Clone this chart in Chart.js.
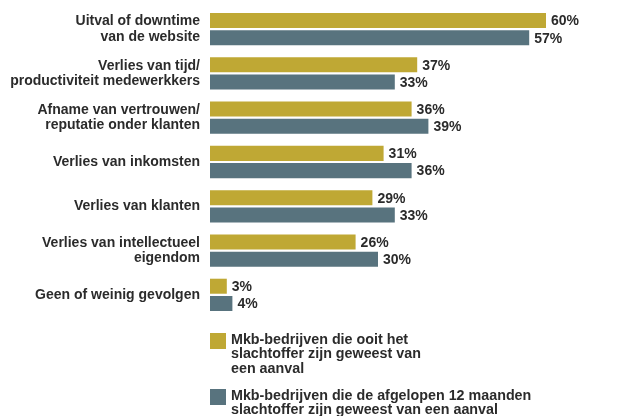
<!DOCTYPE html>
<html>
<head>
<meta charset="utf-8">
<script src="https://cdn.jsdelivr.net/npm/chart.js@4"></script>
<style>
  html,body{margin:0;padding:0;background:#fff;}
  #wrap{position:relative;width:632px;height:416px;}
  #legend{position:absolute;left:210px;top:0;font-family:"Liberation Sans",Arial,sans-serif;font-weight:bold;font-size:14.3px;line-height:14.5px;color:#2b2b2b;}
  .item{position:absolute;left:0;white-space:nowrap;}
  .sw{position:absolute;left:0;width:16px;height:16px;}
  .tx{position:absolute;left:21px;top:-1.5px;}
</style>
</head>
<body>
<div id="wrap">
  <canvas id="c" width="632" height="416"></canvas>
  <div id="legend"></div>
</div>
<script>
const categories = [
  ["Uitval of downtime", "van de website"],
  ["Verlies van tijd/", "productiviteit medewerkkers"],
  ["Afname van vertrouwen/", "reputatie onder klanten"],
  "Verlies van inkomsten",
  "Verlies van klanten",
  ["Verlies van intellectueel", "eigendom"],
  "Geen of weinig gevolgen"
];
const everVictim = [60, 37, 36, 31, 29, 26, 3];
const last12Months = [57, 33, 39, 36, 33, 30, 4];
const seriesNames = [
  ["Mkb-bedrijven die ooit het", "slachtoffer zijn geweest van", "een aanval"],
  ["Mkb-bedrijven die de afgelopen 12 maanden", "slachtoffer zijn geweest van een aanval"]
];
const colors = ["#BFA834", "#58737E"];
const textColor = "#2b2b2b";
const font = "bold 14px 'Liberation Sans', Arial, sans-serif";

const valueLabels = {
  id: "valueLabels",
  afterDatasetsDraw(chart) {
    const ctx = chart.ctx;
    ctx.save();
    ctx.font = font;
    ctx.fillStyle = textColor;
    ctx.textAlign = "left";
    ctx.textBaseline = "middle";
    chart.data.datasets.forEach((ds, i) => {
      chart.getDatasetMeta(i).data.forEach((el, j) => {
        ctx.fillText(ds.data[j] + "%", el.x + 5, el.y + 1);
      });
    });
    ctx.restore();
  }
};

new Chart(document.getElementById("c"), {
  type: "bar",
  data: {
    labels: categories,
    datasets: [
      { label: seriesNames[0].join(" "), data: everVictim, backgroundColor: colors[0], categoryPercentage: 0.78, barPercentage: 0.87 },
      { label: seriesNames[1].join(" "), data: last12Months, backgroundColor: colors[1], categoryPercentage: 0.78, barPercentage: 0.87 }
    ]
  },
  options: {
    indexAxis: "y",
    responsive: false,
    animation: false,
    layout: { padding: { top: 7, bottom: 99, left: 0, right: 30 } },
    plugins: { legend: { display: false }, tooltip: { enabled: false } },
    scales: {
      x: { display: false, min: 0, max: 70 },
      y: {
        grid: { display: false, drawTicks: false },
        border: { display: false },
        ticks: {
          color: textColor,
          padding: 10,
          font: { family: "'Liberation Sans', Arial, sans-serif", size: 14, weight: "bold", lineHeight: 1.08 }
        },
        afterFit(scale) { scale.width = 210; scale.paddingTop = 0; scale.paddingBottom = 0; }
      }
    }
  },
  plugins: [valueLabels]
});

const legend = document.getElementById("legend");
const tops = [333, 389];
seriesNames.forEach((lines, i) => {
  const item = document.createElement("div");
  item.className = "item";
  item.style.top = tops[i] + "px";
  const sw = document.createElement("div");
  sw.className = "sw";
  sw.style.background = colors[i];
  const tx = document.createElement("div");
  tx.className = "tx";
  tx.innerHTML = lines.join("<br>");
  item.appendChild(sw);
  item.appendChild(tx);
  legend.appendChild(item);
});
</script>
</body>
</html>
